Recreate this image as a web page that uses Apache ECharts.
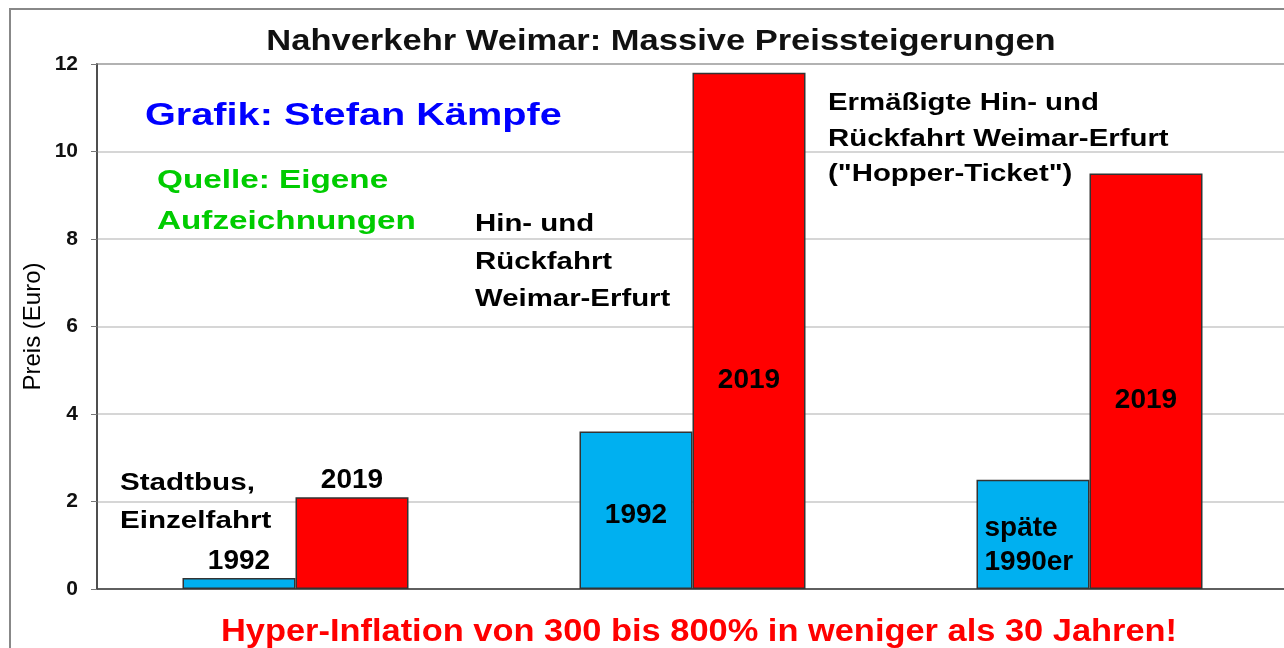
<!DOCTYPE html>
<html>
<head>
<meta charset="UTF-8">
<title>Nahverkehr Weimar</title>
<style>
  * { margin: 0; padding: 0; }
  html, body { width: 1284px; height: 648px; background: #fff; overflow: hidden; }
  #main { width: 1292px; height: 648px; }
</style>
<script src="https://cdn.jsdelivr.net/npm/echarts@6/dist/echarts.min.js"></script>
</head>
<body>
<div id="main"></div>
<script>
// Daten
var kategorien = ['Stadtbus, Einzelfahrt', 'Hin- und Rückfahrt Weimar-Erfurt', 'Hopper-Ticket'];
var preiseAlt = [0.25, 3.6, 2.5];
var preise2019 = [2.1, 11.8, 9.5];
var labelsAlt = ['1992', '1992', 'späte\n1990er'];
var labels2019 = ['2019', '2019', '2019'];
var yTicks = [0, 2, 4, 6, 8, 10, 12];

var FONT = '"Liberation Sans", Arial, sans-serif';

// Label-Platzierung je Balken (wie im Original)
var posAlt = [
  { position: 'top', distance: 3 },
  { position: 'inside', offset: [0, 5] },
  { position: 'insideLeft', distance: 8, offset: [0, 11], align: 'left', lineHeight: 34 }
];
var pos2019 = [
  { position: 'top', distance: 3 },
  { position: 'inside', offset: [0, 49] },
  { position: 'inside', offset: [0, 19] }
];

function mkData(vals, texts, pos) {
  return vals.map(function (v, i) {
    var lab = Object.assign({
      show: true,
      formatter: texts[i],
      color: '#000',
      fontFamily: FONT,
      fontWeight: 'bold',
      fontSize: 28
    }, pos[i]);
    return { value: v, label: lab };
  });
}

// Text im Original ist breiter gezogen -> scaleX
function txt(x, y, text, color, size, lh, sx, align) {
  return {
    type: 'text', x: x, y: y, scaleX: sx || 1,
    style: {
      text: text, fill: color, font: 'bold ' + size + 'px ' + FONT,
      lineHeight: lh || size, align: align || 'left', verticalAlign: 'top'
    }
  };
}

var myChart = echarts.init(document.getElementById('main'));
var option = {
  animation: false,
  backgroundColor: '#fff',
  grid: {
    left: 97, top: 64, width: 1191, height: 525,
    show: true, borderColor: '#444', borderWidth: 1.5, backgroundColor: '#fff'
  },
  xAxis: {
    type: 'category',
    data: kategorien,
    axisLine: { lineStyle: { color: '#444', width: 1.5 } },
    axisTick: { show: false },
    axisLabel: { show: false }
  },
  yAxis: {
    type: 'value',
    min: yTicks[0], max: yTicks[yTicks.length - 1], interval: 2,
    name: 'Preis (Euro)',
    nameLocation: 'middle',
    nameGap: 52,
    nameMoveOverlap: false,
    nameTextStyle: { fontFamily: FONT, fontSize: 24, color: '#000' },
    axisLine: { show: true, lineStyle: { color: '#444', width: 1.5 } },
    axisTick: { show: true, length: 6, lineStyle: { color: '#777' } },
    axisLabel: { fontFamily: FONT, fontWeight: 'bold', fontSize: 21, color: '#111', margin: 19 },
    splitLine: { lineStyle: { color: '#c8c8c8', width: 1.5 } }
  },
  series: [
    {
      type: 'bar', name: 'alt',
      data: mkData(preiseAlt, labelsAlt, posAlt),
      barWidth: 113, barGap: '0%',
      itemStyle: { color: '#00b0f0', borderColor: '#333', borderWidth: 1.5 }
    },
    {
      type: 'bar', name: '2019',
      data: mkData(preise2019, labels2019, pos2019),
      barWidth: 113, barGap: '0%',
      itemStyle: { color: '#ff0000', borderColor: '#333', borderWidth: 1.5 }
    }
  ],
  graphic: [
    { type: 'rect', x: 10, y: 9, shape: { width: 1300, height: 700 },
      style: { fill: 'none', stroke: '#888', lineWidth: 2 } },
    txt(661, 27, 'Nahverkehr Weimar: Massive Preissteigerungen', '#111', 30, 30, 1.15, 'center'),
    txt(145, 100, 'Grafik: Stefan Kämpfe', '#0000ff', 32, 32, 1.24),
    txt(157, 160, 'Quelle: Eigene\nAufzeichnungen', '#00cc00', 26, 41, 1.28),
    txt(475, 206, 'Hin- und\nRückfahrt\nWeimar-Erfurt', '#000', 23.5, 37.5, 1.25),
    txt(828, 86, 'Ermäßigte Hin- und\nRückfahrt Weimar-Erfurt\n("Hopper-Ticket")', '#000', 23.5, 35.5, 1.25),
    txt(120, 465, 'Stadtbus,\nEinzelfahrt', '#000', 23.5, 38, 1.26),
    txt(699, 617, 'Hyper-Inflation von 300 bis 800% in weniger als 30 Jahren!', '#ff0000', 31, 31, 1.11, 'center')
  ]
};
myChart.setOption(option);
</script>
</body>
</html>
